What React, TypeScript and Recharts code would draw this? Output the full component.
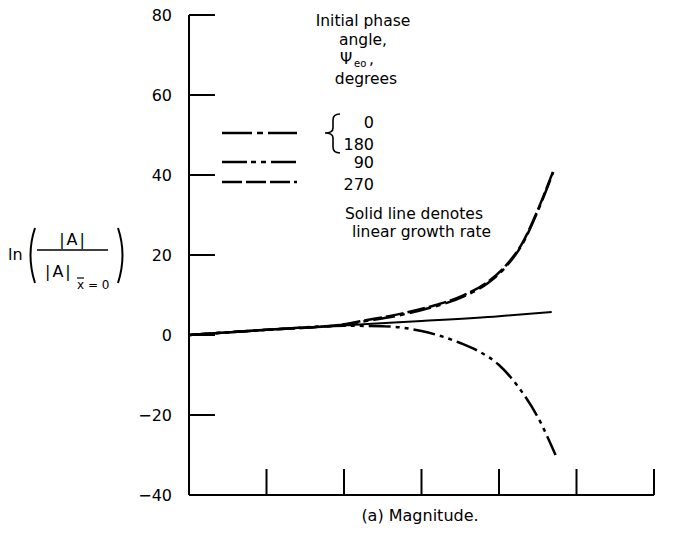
import React from "react";
import { LineChart, Line, XAxis, YAxis } from "recharts";

// axis ticks
const xTicks = [0, 1, 2, 3, 4, 5, 6];
const yTicks = [-40, -20, 0, 20, 40, 60, 80];

// solid: linear growth rate
const solidX = [0, 1, 2, 3, 4, 4.68];
const solidY = [0, 1.3, 2.4, 3.5, 4.7, 5.75];

// psi = 0 / 180 (dash-dot)
const phase0X = [0, 1, 2, 2.25, 2.68, 3.11, 3.54, 3.85, 4.1, 4.31, 4.49, 4.7];
const phase0Y = [0, 1.3, 2.6, 3.4, 4.8, 6.8, 9.6, 12.9, 17.3, 23, 30.5, 40.75];

// psi = 270 (dashed)
const phase270X = [0, 1, 2, 2.25, 2.68, 3.11, 3.54, 3.85, 4.1, 4.31, 4.49, 4.7];
const phase270Y = [0, 1.3, 2.7, 3.6, 5.1, 7.1, 9.9, 13.2, 17.6, 23.3, 30.8, 41];

// psi = 90 (dash-dot-dot)
const phase90X = [0, 1, 2, 2.5, 3, 3.5, 3.75, 4, 4.25, 4.5, 4.73];
const phase90Y = [0, 1.3, 2.3, 2.2, 1.0, -2, -4.2, -7.5, -13, -20.5, -30];

const legendAngles = ["0", "180", "90", "270"];

const FONT = "'DejaVu Sans', sans-serif";

const toRows = (xs: number[], ys: number[]) => xs.map((x, i) => ({ x, y: ys[i] }));

const fmt = (v: number) => (v < 0 ? `\u2212${Math.abs(v)}` : `${v}`);

function YTick(props: any) {
  const { x, y, payload } = props;
  return (
    <g>
      <line x1={x} y1={y} x2={x + 26} y2={y} stroke="#000" strokeWidth={2} />
      <text x={x - 17} y={y + 6} textAnchor="end" fontSize={16} fontFamily={FONT} fill="#000">
        {fmt(payload.value)}
      </text>
    </g>
  );
}

function XTick(props: any) {
  const { x, y } = props;
  return <line x1={x} y1={y} x2={x} y2={y - 26} stroke="#000" strokeWidth={2} />;
}

function Notes() {
  return (
    <svg width={695} height={533} style={{ position: "absolute", left: 0, top: 0, pointerEvents: "none" }}>
      <g fontFamily={FONT} fontSize={16} fill="#000">
        {/* y label */}
        <text x={8} y={260}>ln</text>
        <path d="M35 228 Q26 255 35 283" stroke="#000" strokeWidth={2} fill="none" />
        <path d="M118 228 Q127 255 118 283" stroke="#000" strokeWidth={2} fill="none" />
        <line x1={37} y1={250} x2={108} y2={250} stroke="#000" strokeWidth={1.5} />
        <text x={73} y={245} textAnchor="middle" letterSpacing={2}>|A|</text>
        <text x={45} y={277} letterSpacing={2}>|A|</text>
        <text x={77} y={289} fontSize={12}>x = 0</text>
        <line x1={77} y1={278} x2={84} y2={278} stroke="#000" strokeWidth={1.2} />

        {/* legend title */}
        <g fontSize={15.5}>
          <text x={363} y={26} textAnchor="middle">Initial phase</text>
          <text x={363} y={45} textAnchor="middle">angle,</text>
          <text x={340} y={64}>Ψ</text>
          <text x={354} y={67} fontSize={10}>eo</text>
          <text x={369} y={64}>,</text>
          <text x={366} y={84} textAnchor="middle">degrees</text>
        </g>

        {/* legend samples */}
        <line x1={222} y1={133} x2={297} y2={133} stroke="#000" strokeWidth={2.5} strokeDasharray="30 5 6 5" />
        <line x1={222} y1={162} x2={297} y2={162} stroke="#000" strokeWidth={2.5} strokeDasharray="25 4 5 5 5 5" />
        <line x1={222} y1={182} x2={297} y2={182} stroke="#000" strokeWidth={2.5} strokeDasharray="20 4" />
        <path d="M340 114 Q333 114 333 120 L333 128 Q333 133 325 133 Q333 133 333 138 L333 147 Q333 153 340 153" stroke="#000" strokeWidth={1.6} fill="none" />
        <text x={374} y={128} textAnchor="end">{legendAngles[0]}</text>
        <text x={374} y={150} textAnchor="end">{legendAngles[1]}</text>
        <text x={374} y={168} textAnchor="end">{legendAngles[2]}</text>
        <text x={374} y={190} textAnchor="end">{legendAngles[3]}</text>

        <text x={345} y={219} fontSize={15.5}>Solid line denotes</text>
        <text x={352} y={237} fontSize={15.5}>linear growth rate</text>

        <text x={420} y={521} textAnchor="middle">(a) Magnitude.</text>
      </g>
    </svg>
  );
}

export default function App() {
  return (
    <div style={{ position: "absolute", left: 0, top: 0, width: 695, height: 533, background: "#fff" }}>
      <LineChart width={695} height={533} margin={{ top: 15, right: 41, bottom: 37, left: 0 }}>
        <XAxis
          type="number"
          dataKey="x"
          domain={[0, 6]}
          ticks={xTicks}
          height={1}
          tickSize={0}
          tickMargin={0}
          tickLine={false}
          tick={<XTick />}
          axisLine={{ stroke: "#000", strokeWidth: 2 }}
          allowDuplicatedCategory={false}
        />
        <YAxis
          type="number"
          domain={[-40, 80]}
          ticks={yTicks}
          width={189}
          tickSize={0}
          tickMargin={0}
          tickLine={false}
          tick={<YTick />}
          axisLine={{ stroke: "#000", strokeWidth: 2 }}
        />
        <Line data={toRows(solidX, solidY)} dataKey="y" type="monotone" stroke="#000" strokeWidth={2} dot={false} isAnimationActive={false} />
        <Line data={toRows(phase0X, phase0Y)} dataKey="y" type="monotone" stroke="#000" strokeWidth={2.5} strokeDasharray="22 5 5 5" dot={false} isAnimationActive={false} />
        <Line data={toRows(phase270X, phase270Y)} dataKey="y" type="monotone" stroke="#000" strokeWidth={2.5} strokeDasharray="18 4" dot={false} isAnimationActive={false} />
        <Line data={toRows(phase90X, phase90Y)} dataKey="y" type="monotone" stroke="#000" strokeWidth={2.5} strokeDasharray="22 5 4 5 4 5" dot={false} isAnimationActive={false} />
      </LineChart>
      <Notes />
    </div>
  );
}
